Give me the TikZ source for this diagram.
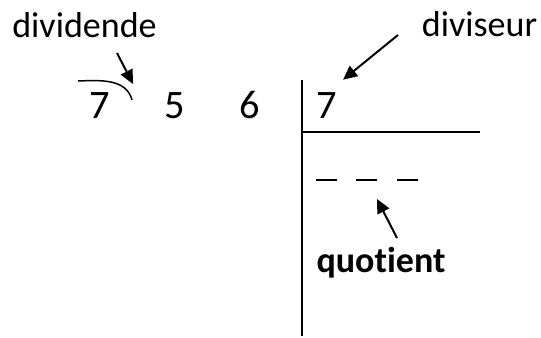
\documentclass[tikz,border=0pt]{standalone}
\usepackage{fontspec}
\setmainfont{Carlito}[Ligatures=NoCommon]
\usepackage{tikz}
\usetikzlibrary{arrows.meta,positioning,calc}

\begin{document}
\begin{tikzpicture}[
  x=0.02cm, y=-0.02cm,
  label/.style={anchor=base, inner sep=0pt, font=\fontsize{20.5}{24}\selectfont},
  digit/.style={anchor=base, inner sep=0pt, font=\fontsize{23}{27}\selectfont},
  arrow/.style={-{Triangle[length=0.28cm,width=0.26cm]}, line width=0.04cm},
  bar/.style={line width=0.04cm}
]
  \useasboundingbox (0,0) rectangle (541,338);

  \node[label] (dividende) at (84.5,37) {dividende};
  \node[label] (diviseur) at (479.5,36) {diviseur};
  \node[label, font=\fontsize{20.5}{24}\selectfont\bfseries] (quotient) at (381,272) {quotient};

  \node[digit] (d1) at (100,118) {7};
  \node[digit] (d2) at (175,118) {5};
  \node[digit] (d3) at (250,118) {6};
  \node[digit] (dv) at (326.5,118) {7};

  \coordinate (bartop) at (302,80);
  \coordinate (barbot) at (302,336);
  \coordinate (lineend) at (480,132);
  \draw[bar] (bartop) -- (barbot);
  \draw[bar] (bartop |- lineend) -- (lineend);
  \foreach \x in {316,356,397}
    \draw[bar] (\x,180) -- ++(21,0);

  \draw[line width=0.03cm] (78,81) to[out=2, in=105] (132,100);

  \coordinate (dvdtail) at (117,53);
  \coordinate (dvdtip) at (133,84);
  \draw[arrow] (dvdtail) -- (dvdtip);
  \coordinate (dvstail) at (398,35);
  \draw[arrow] (dvstail) -- ($(dv.north east)+(6,-12)$);
  \coordinate (qtail) at (397,238);
  \coordinate (qtip) at (377,199);
  \draw[arrow] (qtail) -- (qtip);
\end{tikzpicture}
\end{document}
